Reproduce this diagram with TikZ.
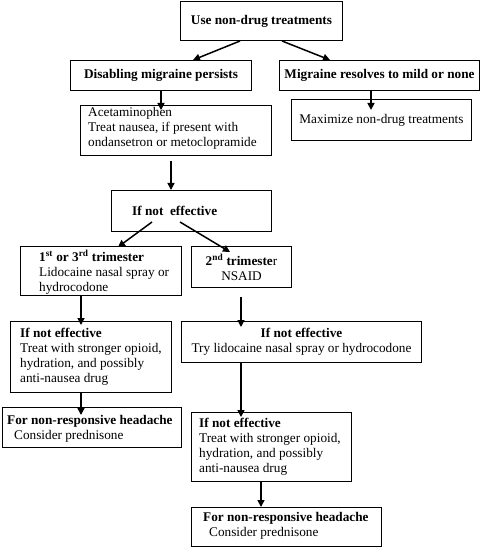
\documentclass[tikz,border=0pt]{standalone}
\usepackage{fontspec}
\setmainfont{Liberation Serif}
\usetikzlibrary{arrows.meta,calc}
\tikzset{
  box/.style={draw=black, line width=1bp, anchor=north west, inner sep=0pt, align=center, font=\fontsize{13.3}{15}\selectfont},
  txt/.style={anchor=west, inner sep=0pt, align=left, font=\fontsize{13.3}{15}\selectfont},
  arr/.style={line width=1.5bp, -{Triangle[length=7bp,width=7bp]}},
}
\newcommand{\bx}[5]{\node[box, minimum width=#3bp, minimum height=#4bp] (#1) at (#2) {#5};}
\begin{document}
\begin{tikzpicture}[x=1bp,y=-1bp]
\useasboundingbox (0,0) rectangle (480,547);
% boxes
\bx{A}{180,1}{162}{39}{\textbf{Use non-drug treatments}}
\bx{B}{70,60}{181}{30}{\textbf{Disabling migraine persists}}
\bx{C}{279,60}{200}{30}{\textbf{Migraine resolves to mild or none}}
\bx{D}{80,105}{191}{50}{}
\bx{E}{291,99}{180}{41}{Maximize non-drug treatments}
\bx{F}{111,190}{160}{41}{}
\bx{G}{20,246}{161}{49}{}
\bx{H}{191,246}{100}{41}{\textbf{2\textsuperscript{nd} trimeste}r\\NSAID}
\bx{I}{10,321}{161}{71}{}
\bx{J}{181,321}{240}{41}{\textbf{If not effective}\\Try lidocaine nasal spray or hydrocodone}
\bx{K}{2,407}{179}{40}{}
\bx{L}{191,412}{160}{69}{}
\bx{M}{191,507}{190}{39}{}
% left-aligned texts
\node[txt] (tD) at (88,128) {Acetaminophen\\Treat nausea, if present with\\ondansetron or metoclopramide};
\node[txt] (tF) at (132,211) {\textbf{If not\ \ effective}};
\node[txt] (tG) at (39,272) {\textbf{1\textsuperscript{st} or 3\textsuperscript{rd} trimester}\\Lidocaine nasal spray or\\hydrocodone};
\node[txt] (tI) at (20,356.5) {\textbf{If not effective}\\Treat with stronger opioid,\\hydration, and possibly\\anti-nausea drug};
\node[txt] (tK) at (7,428.5) {\textbf{For non-responsive headache}\\\hspace*{7bp}Consider prednisone};
\node[txt] (tL) at (199,446.5) {\textbf{If not effective}\\Treat with stronger opioid,\\hydration, and possibly\\anti-nausea drug};
\node[txt] (tM) at (203,525.5) {\textbf{For non-responsive headache}\\\hspace*{6bp}Consider prednisone};
% arrows
\draw[arr] ($(A.south west)+(60,0)$) -- ($(B.north west)+(123,0)$);
\draw[arr] ($(A.south west)+(102,0)$) -- ($(C.north west)+(51,0)$);
\draw[arr] ($(B.south west)+(91,0)$) -- ($(D.north west)+(81,5)$);
\draw[arr] ($(C.south west)+(92,0)$) -- ($(E.north west)+(80,11)$);
\draw[arr] ($(D.south west)+(91,5)$) -- ($(F.north west)+(60,0)$);
\draw[arr] ($(F.south west)+(41,-10)$) -- ($(G.north west)+(98,1)$);
\draw[arr] ($(F.south west)+(69,-10)$) -- ($(H.north west)+(39,6)$);
\draw[arr] ($(G.south west)+(61,0)$) -- ($(I.north west)+(71,4)$);
\draw[arr] ($(H.south west)+(50,9)$) -- ($(J.north west)+(60,6)$);
\draw[arr] ($(I.south west)+(71,0)$) -- ($(K.north west)+(79,8)$);
\draw[arr] ($(J.south west)+(60,0)$) -- ($(L.north west)+(50,5)$);
\draw[arr] ($(L.south west)+(70,0)$) -- ($(M.north west)+(70,0)$);
\end{tikzpicture}
\end{document}
